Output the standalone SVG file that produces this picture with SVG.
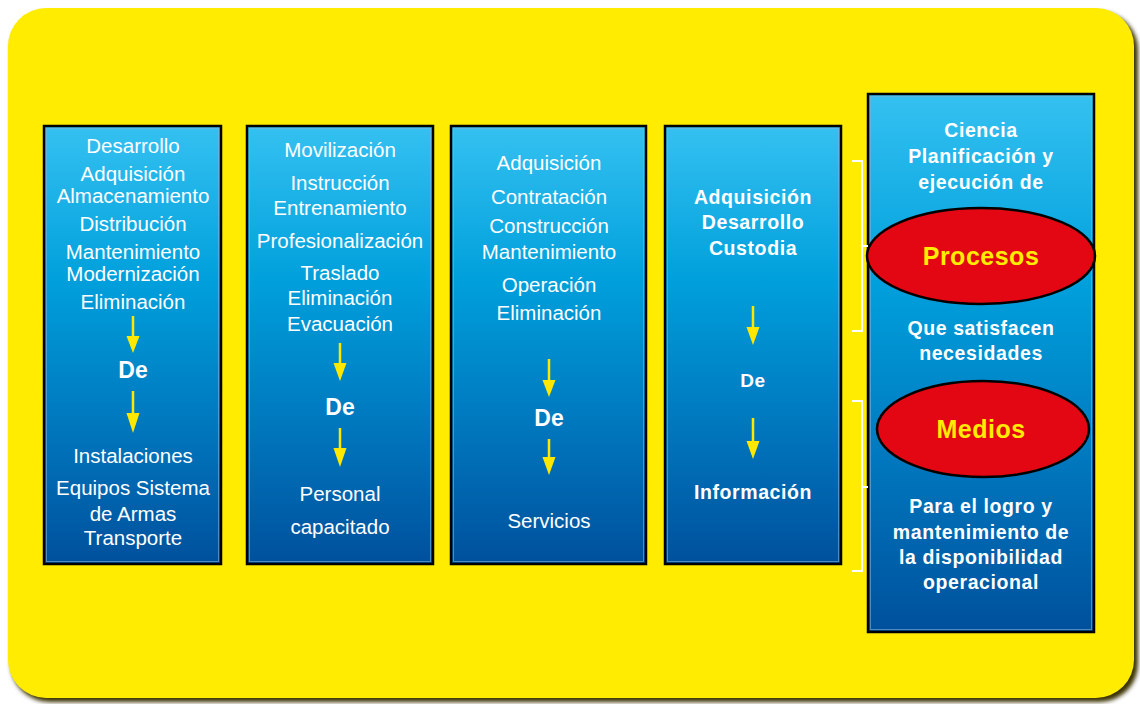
<svg xmlns="http://www.w3.org/2000/svg" width="1140" height="704" viewBox="0 0 1140 704">
<defs>
<linearGradient id="blue" x1="0" y1="0" x2="0" y2="1">
<stop offset="0" stop-color="#35C1F1"/>
<stop offset="0.35" stop-color="#00A0DC"/>
<stop offset="0.7" stop-color="#0075BC"/>
<stop offset="1" stop-color="#00509C"/>
</linearGradient>
<filter id="shadow" x="-5%" y="-5%" width="110%" height="110%">
<feGaussianBlur stdDeviation="2"/>
</filter>
</defs>
<style>
.box{fill:url(#blue);stroke:#000;stroke-width:2.5}
.inner{fill:none;stroke:#7FB0D8;stroke-width:1;opacity:0.6}
.t{font-family:"Liberation Sans",Arial,sans-serif;fill:#fff;text-anchor:middle;font-size:20.5px}
.b{font-family:"Liberation Sans",Arial,sans-serif;fill:#fff;text-anchor:middle;font-weight:bold;font-size:19.5px;letter-spacing:0.6px}
.de{font-family:"Liberation Sans",Arial,sans-serif;fill:#fff;text-anchor:middle;font-weight:bold;font-size:23px}
.ell{fill:#E30613;stroke:#000;stroke-width:2.5}
.yl{font-family:"Liberation Sans",Arial,sans-serif;fill:#FFEC00;text-anchor:middle;font-weight:bold;font-size:25px;letter-spacing:0.5px}
.arr line{stroke:#FFE800;stroke-width:2.5}
.arr polygon{fill:#FFE800}
.br{fill:none;stroke:#fff;stroke-width:2}
</style>
<rect x="11" y="12" width="1127" height="690" rx="38" fill="#3A3300" filter="url(#shadow)"/>
<rect x="8" y="8" width="1126" height="690" rx="38" fill="#FFEC00"/>

<g id="box1">
<rect class="box" x="44" y="126" width="177" height="438"/>
<rect class="inner" x="46.5" y="128.5" width="172" height="433"/>
<text class="t" x="133" y="153">Desarrollo</text>
<text class="t" x="133" y="181">Adquisición</text>
<text class="t" x="133" y="203">Almacenamiento</text>
<text class="t" x="133" y="231">Distribución</text>
<text class="t" x="133" y="259">Mantenimiento</text>
<text class="t" x="133" y="281">Modernización</text>
<text class="t" x="133" y="309">Eliminación</text>
<text class="de" x="133" y="378">De</text>
<text class="t" x="133" y="463">Instalaciones</text>
<text class="t" x="133" y="495">Equipos Sistema</text>
<text class="t" x="133" y="521">de Armas</text>
<text class="t" x="133" y="545">Transporte</text>
</g>

<g id="box2">
<rect class="box" x="247" y="126" width="186" height="438"/>
<rect class="inner" x="249.5" y="128.5" width="181" height="433"/>
<text class="t" x="340" y="157">Movilización</text>
<text class="t" x="340" y="190">Instrucción</text>
<text class="t" x="340" y="215">Entrenamiento</text>
<text class="t" x="340" y="248">Profesionalización</text>
<text class="t" x="340" y="280">Traslado</text>
<text class="t" x="340" y="305">Eliminación</text>
<text class="t" x="340" y="331">Evacuación</text>
<text class="de" x="340" y="415">De</text>
<text class="t" x="340" y="501">Personal</text>
<text class="t" x="340" y="534">capacitado</text>
</g>

<g id="box3">
<rect class="box" x="451" y="126" width="195" height="438"/>
<rect class="inner" x="453.5" y="128.5" width="190" height="433"/>
<text class="t" x="549" y="170">Adquisición</text>
<text class="t" x="549" y="204">Contratación</text>
<text class="t" x="549" y="233">Construcción</text>
<text class="t" x="549" y="259">Mantenimiento</text>
<text class="t" x="549" y="292">Operación</text>
<text class="t" x="549" y="320">Eliminación</text>
<text class="de" x="549" y="426">De</text>
<text class="t" x="549" y="528">Servicios</text>
</g>

<g id="box4">
<rect class="box" x="665" y="126" width="176" height="438"/>
<rect class="inner" x="667.5" y="128.5" width="171" height="433"/>
<text class="b" x="753" y="204">Adquisición</text>
<text class="b" x="753" y="229">Desarrollo</text>
<text class="b" x="753" y="255">Custodia</text>
<text class="b" x="753" y="387" style="font-size:19px">De</text>
<text class="b" x="753" y="499">Información</text>
</g>

<g id="box5">
<rect class="box" x="868" y="94" width="226" height="538"/>
<rect class="inner" x="870.5" y="96.5" width="221" height="533"/>
<text class="b" x="981" y="137">Ciencia</text>
<text class="b" x="981" y="163">Planificación y</text>
<text class="b" x="981" y="189">ejecución de</text>
<text class="b" x="981" y="335">Que satisfacen</text>
<text class="b" x="981" y="360">necesidades</text>
<text class="b" x="981" y="513">Para el logro y</text>
<text class="b" x="981" y="539">mantenimiento de</text>
<text class="b" x="981" y="564">la disponibilidad</text>
<text class="b" x="981" y="589">operacional</text>
</g>

<g id="procesos">
<ellipse class="ell" cx="981" cy="256" rx="114" ry="48"/>
<text class="yl" x="981" y="265">Procesos</text>
</g>

<g id="medios">
<ellipse class="ell" cx="983" cy="429" rx="106" ry="48"/>
<text class="yl" x="981" y="438">Medios</text>
</g>

<g id="connectors" class="arr">
<line x1="133" y1="316" x2="133" y2="338"/><polygon points="126.5,336 139.5,336 133,353"/>
<line x1="133" y1="391" x2="133" y2="415"/><polygon points="126.5,413 139.5,413 133,433"/>
<line x1="340" y1="343" x2="340" y2="365"/><polygon points="333.5,363 346.5,363 340,381"/>
<line x1="340" y1="428" x2="340" y2="450"/><polygon points="333.5,448 346.5,448 340,467"/>
<line x1="549" y1="359" x2="549" y2="382"/><polygon points="542.5,380 555.5,380 549,397"/>
<line x1="549" y1="439" x2="549" y2="459"/><polygon points="542.5,457 555.5,457 549,475"/>
<line x1="753" y1="306" x2="753" y2="329"/><polygon points="746.5,327 759.5,327 753,345"/>
<line x1="753" y1="418" x2="753" y2="443"/><polygon points="746.5,441 759.5,441 753,459"/>
<path class="br" d="M852,161 H862 V331 H852 M862,246 H868"/>
<path class="br" d="M852,401 H862 V571 H852 M862,487 H868"/>
</g>
</svg>
